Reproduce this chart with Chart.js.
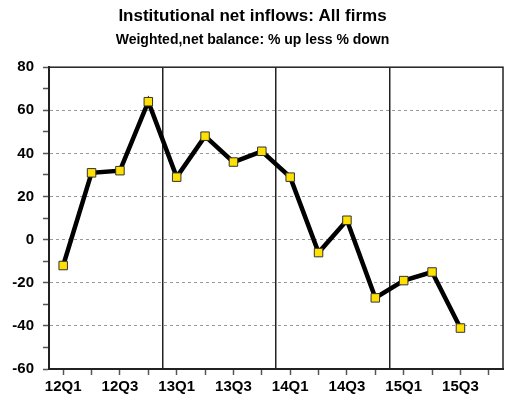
<!DOCTYPE html>
<html>
<head>
<meta charset="utf-8">
<script src="https://cdn.jsdelivr.net/npm/chart.js@4"></script>
<style>
  html, body { margin: 0; padding: 0; background: #fff; }
  #wrap { width: 510px; height: 401px; }
</style>
</head>
<body>
<div id="wrap"><canvas id="inflows"></canvas></div>
<script>
// quarterly survey balance, 12Q1 .. 15Q4 (last quarter not yet reported)
const quarters = ['12Q1', '12Q2', '12Q3', '12Q4', '13Q1', '13Q2', '13Q3', '13Q4',
                  '14Q1', '14Q2', '14Q3', '14Q4', '15Q1', '15Q2', '15Q3', '15Q4'];
const netBalance = [-12, 31, 32, 64, 29, 48, 36, 41, 29, -6, 9, -27, -19, -15, -41, null];
const yMin = -60;
const yMax = 80;

const font = 'Arial, "Liberation Sans", sans-serif';

// thin frame round the plot area
const frame = {
    id: 'frame',
    beforeDatasetsDraw(chart) {
        const { ctx, chartArea: a } = chart;
        ctx.save();
        ctx.strokeStyle = '#222';
        ctx.lineWidth = 1.5;
        ctx.strokeRect(a.left, a.top, a.right - a.left, a.bottom - a.top);
        ctx.restore();
    }
};

new Chart(document.getElementById('inflows'), {
    type: 'line',
    data: {
        labels: quarters,
        datasets: [{
            data: netBalance,
            borderColor: '#000',
            borderWidth: 4.5,
            tension: 0,
            pointStyle: 'rect',
            pointRadius: 6,
            pointBackgroundColor: '#ffe000',
            pointBorderColor: '#333',
            pointBorderWidth: 1
        }]
    },
    options: {
        responsive: true,
        maintainAspectRatio: false,
        animation: false,
        layout: { padding: { left: 0, right: 5, top: 0, bottom: 0 } },
        plugins: {
            legend: { display: false },
            tooltip: { enabled: false },
            title: {
                display: true,
                text: 'Institutional net inflows: All firms',
                color: '#000',
                font: { family: font, size: 17, weight: 'bold' },
                padding: { top: 6, bottom: 5 }
            },
            subtitle: {
                display: true,
                text: 'Weighted,net balance: % up less % down',
                color: '#000',
                font: { family: font, size: 14, weight: 'bold' },
                padding: { top: 0, bottom: 19 }
            }
        },
        scales: {
            x: {
                offset: true,
                grid: {
                    offset: false,
                    drawOnChartArea: false,
                    tickColor: '#555',
                    tickLength: 6,
                    tickWidth: 1.5
                },
                border: { color: '#222', width: 2 },
                ticks: {
                    autoSkip: false,
                    maxRotation: 0,
                    color: '#000',
                    padding: 3,
                    font: { family: font, size: 15, weight: 'bold' },
                    callback: (v, i) => i % 2 === 0 ? quarters[i] : ''
                },
                afterFit: s => { s.height = 32; }
            },
            // year separators
            years: {
                type: 'category',
                position: 'bottom',
                labels: quarters,
                offset: true,
                grid: {
                    offset: true,
                    drawTicks: false,
                    lineWidth: 1.5,
                    color: c => (c.index > 0 && c.index % 4 === 0) ? '#222' : 'transparent'
                },
                border: { display: false },
                ticks: { display: false },
                afterFit: s => { s.height = 0; }
            },
            y: {
                min: yMin,
                max: yMax,
                grid: {
                    color: c => (c.tick.value % 20 === 0 && c.tick.value > yMin && c.tick.value < yMax) ? '#999' : 'transparent',
                    lineWidth: 1,
                    tickColor: '#555',
                    tickLength: 6,
                    tickWidth: 1.5
                },
                border: { color: '#222', width: 2, dash: [3, 3] },
                ticks: {
                    stepSize: 10,
                    color: '#000',
                    padding: 9,
                    font: { family: font, size: 15, weight: 'bold' },
                    callback: v => v % 20 === 0 ? v : ''
                },
                afterFit: s => { s.width = 49; }
            }
        }
    },
    plugins: [frame]
});
</script>
</body>
</html>
